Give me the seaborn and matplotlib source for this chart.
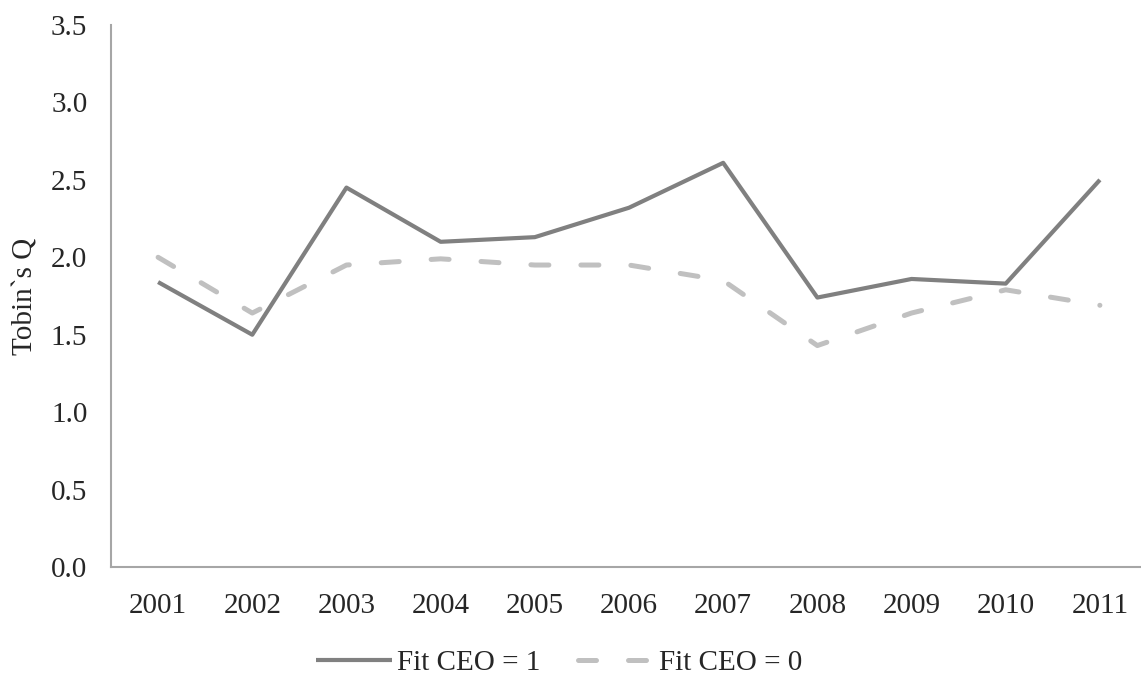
import matplotlib
matplotlib.use("Agg")
import matplotlib.pyplot as plt
import numpy as np
import pandas as pd
import seaborn as sns

sns.set_style("white")
plt.rcParams['font.family'] = ['Liberation Serif', 'DejaVu Serif']

# valores
years = ['2001', '2002', '2003', '2004', '2005', '2006', '2007', '2008', '2009', '2010', '2011']
fit_ceo_1 = [1.84, 1.50, 2.45, 2.10, 2.13, 2.32, 2.61, 1.74, 1.86, 1.83, 2.50]
fit_ceo_0 = [2.00, 1.64, 1.95, 1.99, 1.95, 1.95, 1.85, 1.43, 1.64, 1.79, 1.69]
y_ticks = [0.0, 0.5, 1.0, 1.5, 2.0, 2.5, 3.0, 3.5]

df = pd.DataFrame({'year': years, 'Fit CEO = 1': fit_ceo_1, 'Fit CEO = 0': fit_ceo_0})
dfl = df.melt(id_vars='year', var_name='serie', value_name='q')

fs = 21

fig = plt.figure(figsize=(11.41, 6.77), dpi=100)
ax = fig.add_axes([111/1141, 1-567/677, (1147-111)/1141, (567-25)/677])

sns.lineplot(data=dfl[dfl.serie == 'Fit CEO = 1'], x='year', y='q', color='#808080',
             linewidth=3.0, label='Fit CEO = 1', ax=ax, sort=False)
sns.lineplot(data=dfl[dfl.serie == 'Fit CEO = 0'], x='year', y='q', color='#c0c0c0',
             linewidth=3.6, label='Fit CEO = 0', ax=ax, sort=False)
ax.lines[1].set_dashes((3.6, 6.4))
ax.lines[1].set_dash_capstyle('round')
ax.lines[0].set_solid_capstyle('butt')

ax.set_ylim(0, 3.5)
ax.set_xlim(-0.5, 10.5)
ax.set_yticks(y_ticks)
ax.set_yticklabels(['{:.1f}'.format(t) for t in y_ticks])
ax.tick_params(axis='y', length=0, pad=17, labelsize=fs)
ax.tick_params(axis='x', length=0, pad=19, labelsize=fs)
ax.set_xlabel('')
ax.set_ylabel('Tobin`s Q', fontsize=fs, labelpad=9)

for s in ['top', 'right']:
    ax.spines[s].set_visible(False)
for s in ['left', 'bottom']:
    ax.spines[s].set_color('#a6a6a6')
    ax.spines[s].set_linewidth(1.5)

leg = ax.legend(loc='center', bbox_to_anchor=(0.490, 1-663/677), bbox_transform=fig.transFigure,
                ncol=2, frameon=False, fontsize=fs, handlelength=2.6, handletextpad=0.17,
                columnspacing=1.3)

fig.savefig('out.png', dpi=100)
